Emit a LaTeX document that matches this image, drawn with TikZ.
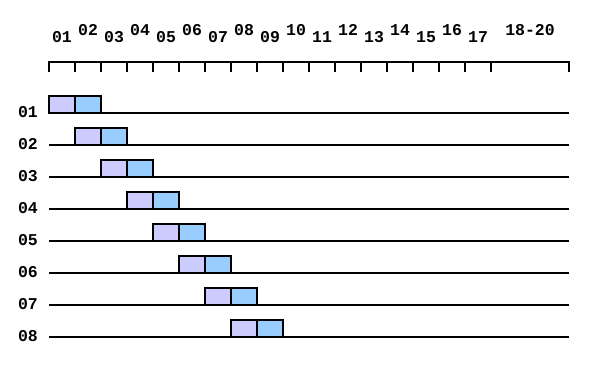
\documentclass[tikz,border=0pt]{standalone}
\usepackage{fontspec}
\setmonofont{Liberation Mono}
\usetikzlibrary{positioning}
\definecolor{slotlav}{HTML}{CCCCFF}
\definecolor{slotblue}{HTML}{99CCFF}
\tikzset{
every picture/.style={
line width=1.9pt
}}
\tikzset{
  lbl/.style={font=\ttfamily\bfseries\fontsize{16.5}{16.5}\selectfont, inner sep=0pt},
  slot/.style={draw, minimum width=26pt, minimum height=17pt, inner sep=0pt, outer sep=0pt},
  slotA/.style={slot, fill=slotlav},
  slotB/.style={slot, fill=slotblue},
}

\begin{document}
\begin{tikzpicture}[x=1pt,y=-1pt]
  \useasboundingbox (0,0) rectangle (604,388);
  % time axis:
  \coordinate (ax0) at (49,62);
  \coordinate (ax1) at (569,62);
  \draw ([yshift=-10pt]ax0) -- (ax0) -- (ax1) -- ([yshift=-10pt]ax1);
  \foreach \k in {1,...,17}
    \draw ([xshift=26*\k pt]ax0) -- ++(0,10);
  \foreach \k in {1,...,17}{
    \pgfmathtruncatemacro{\ly}{isodd(\k) ? 37 : 30}
    \node[lbl] (t\k) at ({36+26*\k}, \ly) {\ifnum\k<10 0\fi\k};
  }
  \node[lbl] (t18) at (530,30) {18-20};
  % rows:
  \foreach \r in {1,...,8}{
    \coordinate (l\r) at (49, {81+32*\r});
    \draw (l\r) -- ++(520,0);
    \node[lbl] (r\r) at (28, {80+32*\r}) {0\r};
    \node[slotA, anchor=south west] (a\r) at ({23+26*\r}, {81+32*\r}) {};
    \node[slotB, anchor=west] (b\r) at (a\r.east) {};
  }
\end{tikzpicture}
\end{document}
